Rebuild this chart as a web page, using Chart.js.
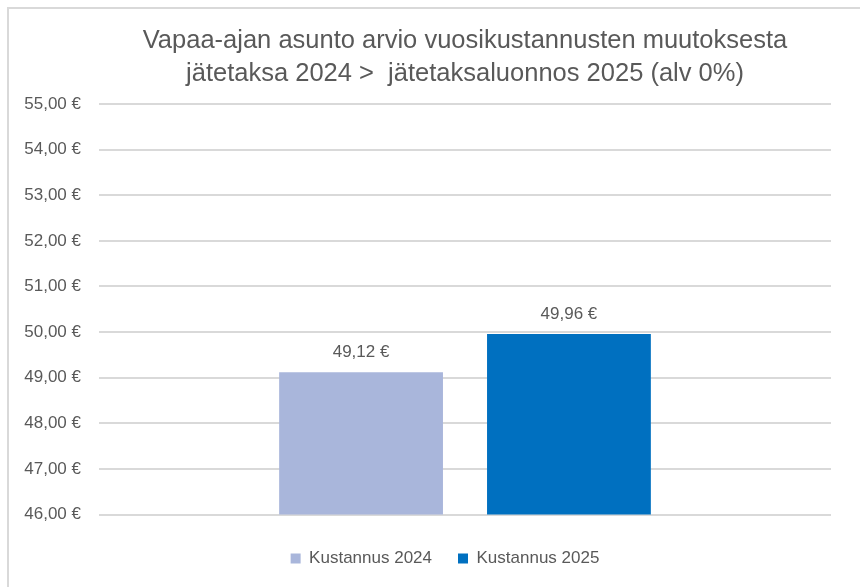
<!DOCTYPE html>
<html>
<head>
<meta charset="utf-8">
<script src="https://cdn.jsdelivr.net/npm/chart.js@4"></script>
<style>
  html, body { margin: 0; padding: 0; background: #fff; overflow: hidden; }
  #kehys { position: absolute; left: 7px; top: 7px; width: 900px; height: 700px; border: 2px solid #d9d9d9; }
  #wrap { position: absolute; left: 0; top: 0; width: 860px; height: 587px; }
</style>
</head>
<body>
<div id="kehys"></div>
<div id="wrap"><canvas id="kuvaaja"></canvas></div>
<script>
// kategoria ja sarjat
const kategoriat = [''];
const sarjaNimet = ['Kustannus 2024', 'Kustannus 2025'];
const kustannus2024 = [49.12];
const kustannus2025 = [49.96];
const otsikko = ['Vapaa-ajan asunto arvio vuosikustannusten muutoksesta', 'jätetaksa 2024 >  jätetaksaluonnos 2025 (alv 0%)'];

const teksti = '#595959';
const fontti = 'Liberation Sans';

function euro(v) {
    return v.toFixed(2).replace('.', ',') + ' €';
}

// arvot pylväiden päälle
const arvoTekstit = {
    id: 'arvoTekstit',
    afterDatasetsDraw(chart) {
        const ctx = chart.ctx;
        ctx.save();
        ctx.font = '17px "' + fontti + '"';
        ctx.fillStyle = teksti;
        ctx.textAlign = 'center';
        ctx.textBaseline = 'bottom';
        chart.data.datasets.forEach((ds, i) => {
            chart.getDatasetMeta(i).data.forEach((bar, j) => {
                ctx.fillText(euro(ds.data[j]), bar.x, bar.y - 11);
            });
        });
        ctx.restore();
    }
};

// otsikko keskitetään kuvaajan alueen mukaan, selite hieman vasemmalle
const asettelu = {
    id: 'asettelu',
    afterLayout(chart) {
        chart.legend.left = 59;
    },
    afterDraw(chart) {
        const ctx = chart.ctx;
        const keski = (chart.chartArea.left + chart.chartArea.right) / 2;
        ctx.save();
        ctx.font = '25.5px "' + fontti + '"';
        ctx.fillStyle = teksti;
        ctx.textAlign = 'center';
        ctx.textBaseline = 'middle';
        ctx.fillText(otsikko[0], keski, 41);
        ctx.fillText(otsikko[1], keski, 74);
        ctx.restore();
    }
};

new Chart(document.getElementById('kuvaaja'), {
    type: 'bar',
    data: {
        labels: kategoriat,
        datasets: [
            {
                label: sarjaNimet[0],
                data: kustannus2024,
                backgroundColor: '#a9b6db',
                categoryPercentage: 0.568,
                barPercentage: 0.788
            },
            {
                label: sarjaNimet[1],
                data: kustannus2025,
                backgroundColor: '#0070c0',
                categoryPercentage: 0.568,
                barPercentage: 0.788
            }
        ]
    },
    plugins: [arvoTekstit, asettelu],
    options: {
        responsive: true,
        maintainAspectRatio: false,
        animation: false,
        layout: {
            padding: { left: 0, right: 29, top: 104, bottom: 10 }
        },
        plugins: {
            title: { display: false },
            legend: {
                position: 'bottom',
                labels: {
                    color: teksti,
                    font: { family: fontti, size: 17 },
                    boxWidth: 10,
                    boxHeight: 10,
                    padding: 26
                }
            },
            tooltip: { enabled: false }
        },
        scales: {
            x: {
                grid: { display: false, drawTicks: false },
                border: { display: false },
                ticks: { display: false },
                afterFit(scale) { scale.height = 9.5; }
            },
            y: {
                min: 46,
                max: 55,
                ticks: {
                    stepSize: 1,
                    color: teksti,
                    padding: 18,
                    font: { family: fontti, size: 17 },
                    callback: v => euro(v)
                },
                grid: { color: '#d9d9d9', lineWidth: 2, drawTicks: false },
                border: { display: false },
                afterFit(scale) { scale.width = 99; }
            }
        }
    }
});
</script>
</body>
</html>
